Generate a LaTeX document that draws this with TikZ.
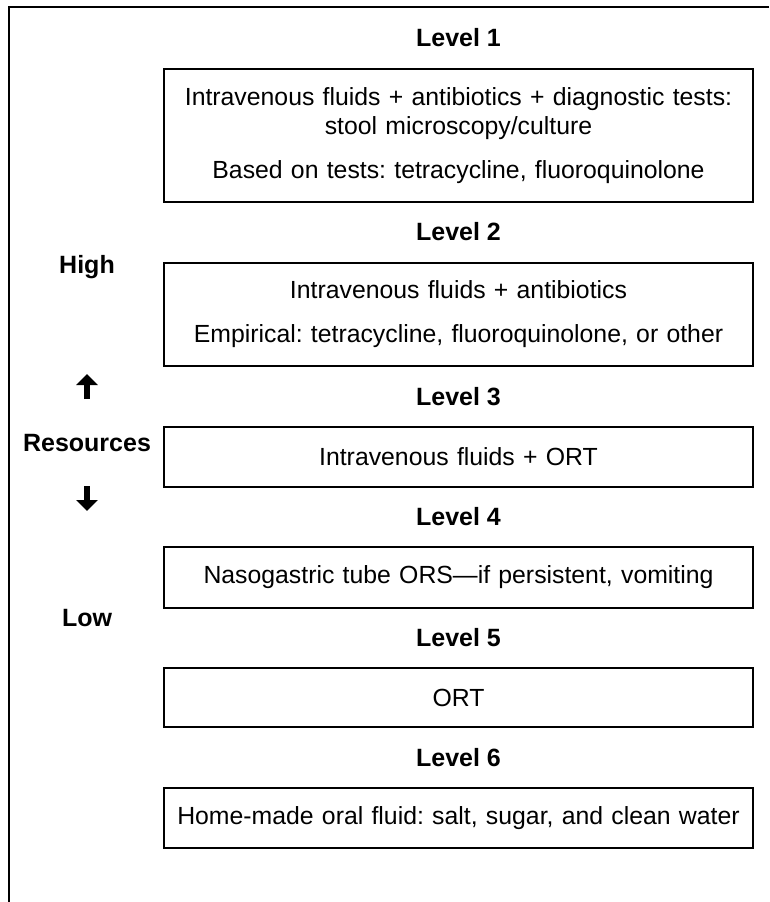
\documentclass[tikz,border=0pt]{standalone}
\usepackage{fontspec}
\setmainfont{Liberation Sans}
\usetikzlibrary{arrows.meta}
\frenchspacing

\tikzset{
  levelbox/.style={draw, line width=1.5pt, minimum width=589pt, text width=580pt,
    align=center, inner sep=0pt, font=\fontsize{24.8}{29}\selectfont},
  leveltitle/.style={font=\bfseries\fontsize{25}{29}\selectfont},
  sidelabel/.style={font=\bfseries\fontsize{25}{29}\selectfont},
  blockarrow/.style={line width=6pt, -{Triangle[length=11pt,width=21pt]}}
}

\begin{document}
\begin{tikzpicture}[x=1pt, y=-1pt]
\useasboundingbox (0,0) rectangle (769,902);
% open frame: top and left only
\draw[line width=1.5pt] (769,7) -- (9,7) -- (9,902);
% levels
\node[leveltitle] (lev1) at (458.5,38) {Level 1};
\node[levelbox, minimum height=133pt] (box1) at (458.5,135.5)
  {Intravenous fluids + antibiotics + diagnostic tests:\\ stool microscopy/culture\\[15pt]
   Based on tests: tetracycline, fluoroquinolone};
\node[leveltitle] (lev2) at (458.5,232) {Level 2};
\node[levelbox, minimum height=103pt] (box2) at (458.5,314.5)
  {Intravenous fluids + antibiotics\\[15pt] Empirical: tetracycline, fluoroquinolone, or other};
\node[leveltitle] (lev3) at (458.5,397) {Level 3};
\node[levelbox, minimum height=60pt] (box3) at (458.5,457) {Intravenous fluids + ORT};
\node[leveltitle] (lev4) at (458.5,517) {Level 4};
\node[levelbox, minimum height=61pt] (box4) at (458.5,577.5) {Nasogastric tube ORS—if persistent, vomiting};
\node[leveltitle] (lev5) at (458.5,638) {Level 5};
\node[levelbox, minimum height=59pt] (box5) at (458.5,697.5) {ORT};
\node[leveltitle] (lev6) at (458.5,758) {Level 6};
\node[levelbox, minimum height=60pt] (box6) at (458.5,818) {Home-made oral fluid: salt, sugar, and clean water};
% resources scale
\node[sidelabel] (high) at (87,267) {High};
\node[sidelabel] (res) at (87,443) {Resources};
\node[sidelabel] (low) at (87,618) {Low};
\coordinate (upfrom) at (87,399);
\coordinate (upto) at (87,374);
\coordinate (downfrom) at (87,486);
\coordinate (downto) at (87,511);
\draw[blockarrow] (upfrom) -- (upto);
\draw[blockarrow] (downfrom) -- (downto);
\end{tikzpicture}
\end{document}
